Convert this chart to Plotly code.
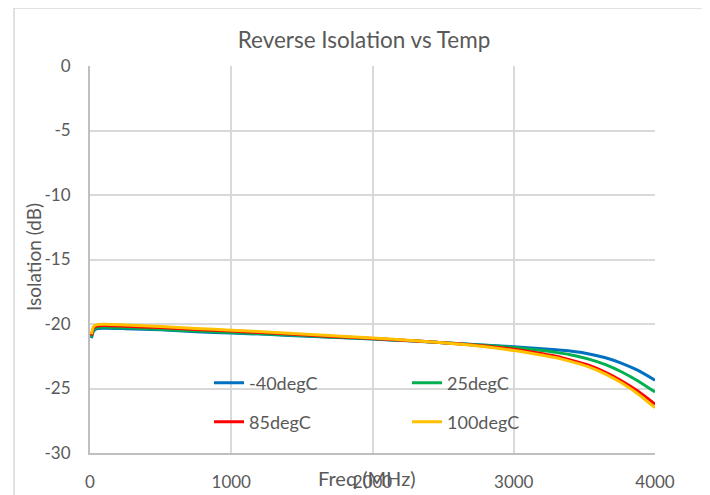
import plotly.graph_objects as go

# Frequency points (MHz)
freq = [10, 25, 50, 100, 250, 500, 750, 1000, 1250, 1500, 1750, 2000, 2250,
        2500, 2750, 3000, 3150, 3300, 3400, 3525, 3650, 3765, 3880, 4000]

# Isolation (dB) per temperature
iso_m40 = [-21.1, -20.55, -20.35, -20.32, -20.36, -20.45, -20.6, -20.7, -20.8,
           -20.93, -21.05, -21.17, -21.3, -21.45, -21.6, -21.77, -21.88, -22.0,
           -22.1, -22.3, -22.62, -23.05, -23.6, -24.36]
iso_25 = [-21.0, -20.45, -20.27, -20.25, -20.3, -20.4, -20.55, -20.65, -20.77,
          -20.9, -21.03, -21.15, -21.28, -21.45, -21.62, -21.82, -22.0, -22.2,
          -22.38, -22.7, -23.15, -23.72, -24.42, -25.28]
iso_85 = [-20.9, -20.3, -20.15, -20.12, -20.17, -20.28, -20.42, -20.55, -20.68,
          -20.83, -20.98, -21.12, -21.27, -21.45, -21.67, -21.96, -22.2, -22.5,
          -22.78, -23.18, -23.75, -24.42, -25.22, -26.22]
iso_100 = [-20.8, -20.2, -20.05, -20.02, -20.08, -20.2, -20.35, -20.48, -20.62,
           -20.78, -20.93, -21.08, -21.25, -21.45, -21.7, -22.05, -22.32, -22.62,
           -22.9, -23.3, -23.88, -24.58, -25.42, -26.49]

series_names = ["-40degC", "25degC", "85degC", "100degC"]
series_vals = [iso_m40, iso_25, iso_85, iso_100]
series_colors = ["#0070C0", "#00B050", "#FF0000", "#FFC000"]
series_legend = ["legend", "legend", "legend2", "legend2"]

x_ticks = [0, 1000, 2000, 3000, 4000]
y_ticks = [0, -5, -10, -15, -20, -25, -30]
y_tick_text = ["0", "-5", "-10", "-15", "-20", "-25", "-30"]

FONT = "Lato"
GRAY = "#595959"

# page offset of the figure (body margin)
OFF = 8
W, H = 710, 495


def fx(sx):
    return sx - OFF


def fy(sy):
    return sy - OFF


PL, PR, PT, PB = fx(90), fx(655), fy(66), fy(453)  # plot box (figure px)


def px(sx):
    return (fx(sx) - PL) / (PR - PL)


def py(sy):
    return (PB - fy(sy)) / (PB - PT)


fig = go.Figure()
for name, vals, col, lg in zip(series_names, series_vals, series_colors, series_legend):
    fig.add_trace(go.Scatter(
        x=freq, y=vals, mode="lines", name=name,
        line=dict(color=col, width=3, shape="spline", smoothing=0.6),
        legend=lg,
    ))

legend_common = dict(
    orientation="h", entrywidth=153, entrywidthmode="pixels",
    bgcolor="rgba(0,0,0,0)", font=dict(family=FONT, size=18, color=GRAY),
    xanchor="left", yanchor="middle", itemclick=False,
)

fig.update_layout(
    width=W, height=H,
    margin=dict(l=PL, r=W - PR, t=PT, b=H - PB, autoexpand=False),
    paper_bgcolor="white", plot_bgcolor="white",
    title=dict(text="Reverse Isolation vs Temp", x=fx(364) / W, xanchor="center",
               y=1 - fy(40) / H, yanchor="middle", yref="container",
               font=dict(family=FONT, size=22.5, color=GRAY)),
    xaxis=dict(range=[0, 4000], tickvals=x_ticks, showgrid=True,
               gridcolor="#d9d9d9", gridwidth=2, showline=True,
               linecolor="#bfbfbf", linewidth=2, zeroline=False,
               ticks="", ticklabelstandoff=13, automargin=False,
               tickfont=dict(family=FONT, size=17, color=GRAY)),
    yaxis=dict(range=[-30, 0], tickvals=y_ticks, ticktext=y_tick_text,
               showgrid=True, gridcolor="#d9d9d9", gridwidth=2, showline=True,
               linecolor="#bfbfbf", linewidth=2, zeroline=False,
               ticks="", ticklabelstandoff=14, automargin=False,
               tickfont=dict(family=FONT, size=17, color=GRAY)),
    legend=dict(x=px(209), y=py(383), **legend_common),
    legend2=dict(x=px(209), y=py(422), **legend_common),
    showlegend=True,
)

# Axis titles
fig.add_annotation(text="Freq (MHz)", xref="paper", yref="paper",
                   x=px(367), y=py(478),
                   xanchor="center", yanchor="middle", showarrow=False,
                   font=dict(family=FONT, size=20, color=GRAY))
fig.add_annotation(text="Isolation (dB)", xref="paper", yref="paper",
                   x=px(33), y=py(257), textangle=-90,
                   xanchor="center", yanchor="middle", showarrow=False,
                   font=dict(family=FONT, size=19, color=GRAY))

# Outer chart border
fig.add_shape(type="rect", xref="paper", yref="paper",
              x0=px(14), x1=px(707), y0=py(520), y1=py(8),
              line=dict(color="#d9d9d9", width=1.5), layer="below")

fig.write_html("out.html")
